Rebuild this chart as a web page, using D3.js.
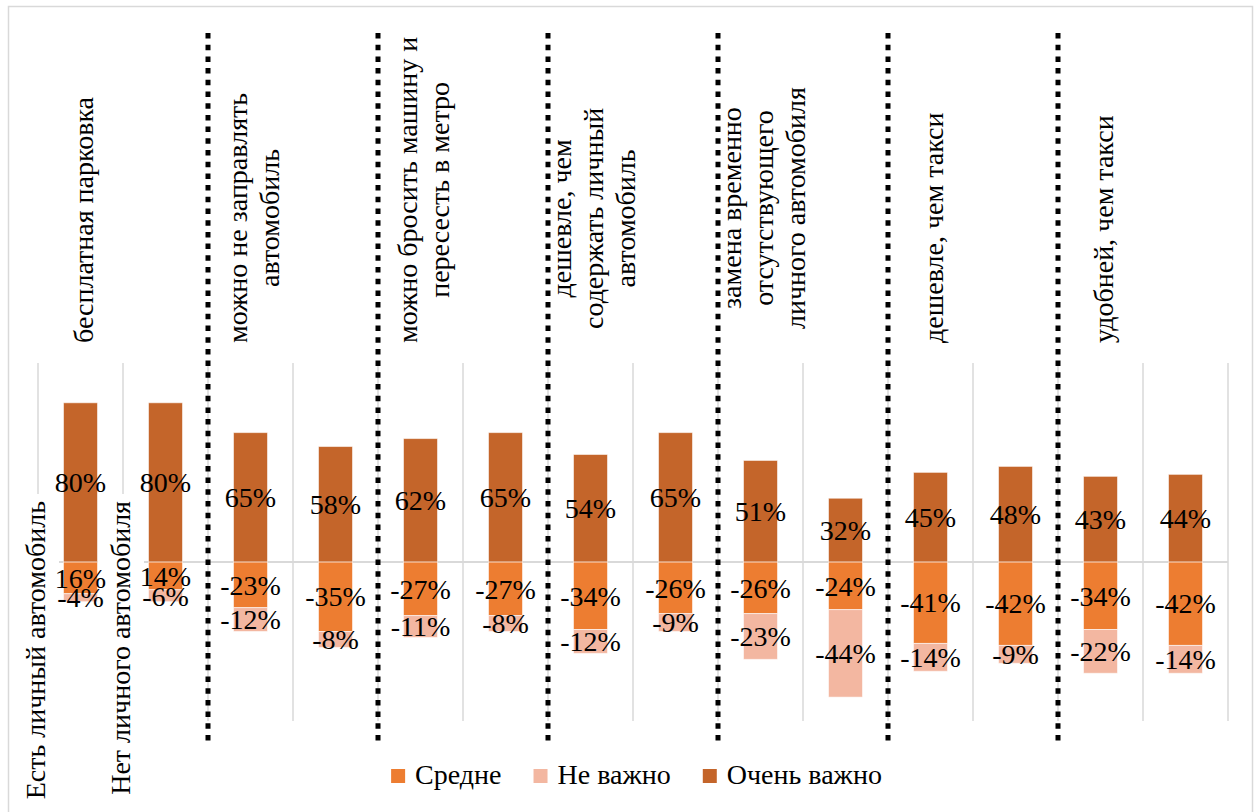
<!DOCTYPE html>
<html lang="ru">
<head>
<meta charset="utf-8">
<script src="https://cdn.jsdelivr.net/npm/d3@7"></script>
<style>
  html, body { margin: 0; padding: 0; background: #fff; }
  text { font-family: "Liberation Serif", "DejaVu Serif", serif; }
</style>
</head>
<body>
<svg id="chart" width="1255" height="812"></svg>
<script>
// Группы мотивов (подписи сверху) и подгруппы (наличие автомобиля)
const groups = [
  ["бесплатная парковка"],
  ["можно не заправлять", "автомобиль"],
  ["можно бросить машину и", "пересесть в метро"],
  ["дешевле, чем", "содержать личный", "автомобиль"],
  ["замена временно", "отсутствующего", "личного автомобиля"],
  ["дешевле, чем такси"],
  ["удобней, чем такси"]
];
const subgroups = ["Есть личный автомобиль", "Нет личного автомобиля"];

// Доли ответов, % (отрицательные — вниз от нуля)
const veryImportant = [80, 80, 65, 58, 62, 65, 54, 65, 51, 32, 45, 48, 43, 44];
const medium        = [-16, -14, -23, -35, -27, -27, -34, -26, -26, -24, -41, -42, -34, -42];
const notImportant  = [-4, -6, -12, -8, -11, -8, -12, -9, -23, -44, -14, -9, -22, -14];
// у первых двух столбцов подпись «Средне» выводится без знака
const unsignedMediumLabels = [0, 1];

const seriesNames = ["Средне", "Не важно", "Очень важно"];
const seriesKeys = ["medium", "notImportant", "veryImportant"];
const colors = { medium: "#ED7D31", notImportant: "#F3B7A1", veryImportant: "#C4652A" };

const rows = veryImportant.map((v, i) => ({
  idx: i,
  veryImportant: v,
  medium: medium[i],
  notImportant: notImportant[i]
}));

const svg = d3.select("#chart")
  .attr("font-family", "'Liberation Serif', 'DejaVu Serif', serif");
const W = 1255, H = 812;
const FONT = 28;

// рамка диаграммы
svg.append("rect")
  .attr("x", 8.5).attr("y", 6.5)
  .attr("width", 1244).attr("height", 830)
  .attr("fill", "#fff").attr("stroke", "#D9D9D9").attr("stroke-width", 1.5);

const x = d3.scaleBand()
  .domain(rows.map(d => d.idx))
  .range([38, 1228])
  .paddingInner(0.6)
  .paddingOuter(0.3);
const step = x.step();
const bandStart = i => x(i) - x.paddingOuter() * step;

const y = d3.scaleLinear().domain([-80, 100]).range([721, 363]);

// вертикальные линии сетки между категориями
const gridX = d3.range(rows.length + 1).map(i => 38 + i * step);
svg.append("g").selectAll("line").data(gridX).join("line")
  .attr("x1", d => d).attr("x2", d => d)
  .attr("y1", y(100)).attr("y2", y(-80))
  .attr("stroke", "#D9D9D9").attr("stroke-width", 1.5);

// нулевая линия
svg.append("line")
  .attr("x1", 38).attr("x2", 1228)
  .attr("y1", y(0)).attr("y2", y(0))
  .attr("stroke", "#D9D9D9").attr("stroke-width", 2);

// подписи подгрупп снизу (на белой подложке)
const subG = svg.append("g");
subgroups.forEach((name, i) => {
  const cx = bandStart(i) - 3;
  subG.append("rect")
    .attr("x", cx - 22).attr("y", 494)
    .attr("width", 46).attr("height", H - 494)
    .attr("fill", "#fff");
  subG.append("text")
    .attr("transform", `translate(${cx},501) rotate(-90)`)
    .attr("text-anchor", "end")
    .attr("dy", "0.35em")
    .attr("font-size", FONT)
    .attr("fill", "#000")
    .text(name);
});

// столбцы
const stack = d3.stack().keys(seriesKeys).offset(d3.stackOffsetDiverging);
const stacked = stack(rows);

const barG = svg.append("g");
stacked.forEach(layer => {
  barG.append("g")
    .attr("fill", colors[layer.key])
    .selectAll("rect").data(layer).join("rect")
    .attr("x", d => x(d.data.idx))
    .attr("width", x.bandwidth())
    .attr("y", d => y(Math.max(d[0], d[1])))
    .attr("height", d => Math.abs(y(d[0]) - y(d[1])))
    .attr("stroke", "rgba(255,255,255,0.55)")
    .attr("stroke-width", 1);
});

// подписи значений
const labelG = svg.append("g");
stacked.forEach(layer => {
  labelG.append("g").selectAll("text").data(layer).join("text")
    .attr("x", d => x(d.data.idx) + x.bandwidth() / 2)
    .attr("y", d => y((d[0] + d[1]) / 2))
    .attr("dy", "0.35em")
    .attr("text-anchor", "middle")
    .attr("font-size", FONT)
    .attr("fill", "#000")
    .text(d => {
      const v = d.data[layer.key];
      const shown = (layer.key === "medium" && unsignedMediumLabels.includes(d.data.idx)) ? Math.abs(v) : v;
      return shown + "%";
    });
});

// пунктирные разделители групп
const sepIdx = d3.range(1, groups.length).map(g => g * 2);
svg.append("g").selectAll("line").data(sepIdx).join("line")
  .attr("x1", i => bandStart(i)).attr("x2", i => bandStart(i))
  .attr("y1", 33).attr("y2", 744)
  .attr("stroke", "#000").attr("stroke-width", 5)
  .attr("stroke-dasharray", "5.5 6.2");

// подписи групп (повёрнутые, сверху)
const LINE = 32;
const groupG = svg.append("g");
groups.forEach((lines, gi) => {
  const cx = x(gi * 2) + x.bandwidth() / 2 + 3;
  const g = groupG.append("g");
  const n = lines.length;
  const texts = lines.map((t, li) => g.append("text")
    .attr("x", 0)
    .attr("y", (li - (n - 1) / 2) * LINE)
    .attr("dy", "0.35em")
    .attr("text-anchor", "middle")
    .attr("font-size", FONT)
    .attr("fill", "#000")
    .text(t));
  const maxLen = d3.max(texts, t => t.node().getComputedTextLength());
  const bottom = n > 2 ? 329 : 343;
  g.attr("transform", `translate(${cx},${bottom - maxLen / 2}) rotate(-90)`);
});

// легенда
const legend = svg.append("g");
let lx = 0;
seriesKeys.forEach((k, i) => {
  const it = legend.append("g").attr("transform", `translate(${lx},0)`);
  it.append("rect").attr("x", 0).attr("y", -15).attr("width", 14).attr("height", 14).attr("fill", colors[k]);
  const t = it.append("text").attr("x", 24).attr("y", 0)
    .attr("font-size", FONT).attr("fill", "#000").text(seriesNames[i]);
  lx += 24 + t.node().getComputedTextLength() + 32;
});
const totalW = lx - 32;
legend.attr("transform", `translate(${636.5 - totalW / 2},784)`);
</script>
</body>
</html>
